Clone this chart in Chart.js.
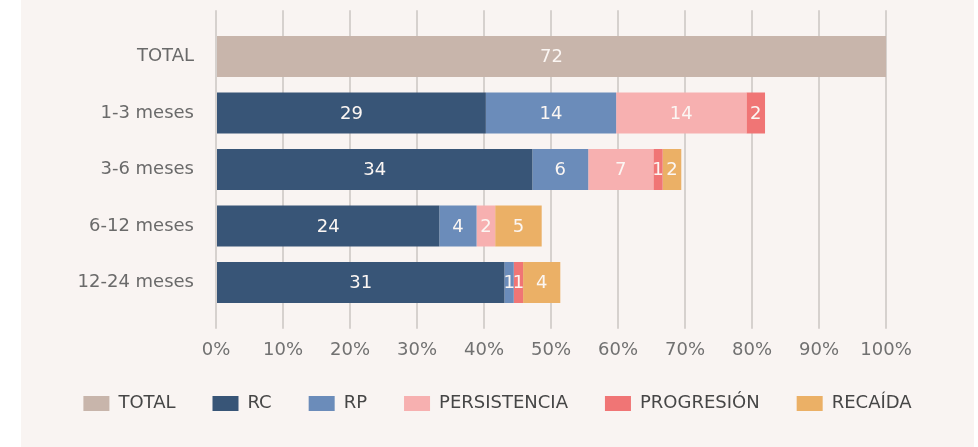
<!DOCTYPE html>
<html lang="es">
<head>
<meta charset="utf-8">
<title>Respuesta por periodo</title>
<script src="https://cdn.jsdelivr.net/npm/chart.js@4.4.1/dist/chart.umd.min.js"></script>
<style>
    body {
        margin: 0;
        background: #ffffff;
    }
    #wrap {
        position: absolute;
        left: 21px;
        top: 0;
        width: 953px;
        height: 447px;
        background: #f9f4f2;
    }
</style>
</head>
<body>
<div id="wrap">
    <canvas id="myChart" width="953" height="447"></canvas>
</div>
<script>
// datos (número de pacientes)
const categories = ['TOTAL', '1-3 meses', '3-6 meses', '6-12 meses', '12-24 meses'];
const totalPacientes = 72;
const total = [72, null, null, null, null];
const rc = [null, 29, 34, 24, 31];
const rp = [null, 14, 6, 4, 1];
const persistencia = [null, 14, 7, 2, 0];
const progresion = [null, 2, 1, 0, 1];
const recaida = [null, 0, 2, 5, 4];
const xTicks = [0, 10, 20, 30, 40, 50, 60, 70, 80, 90, 100];

const FONT = 'DejaVu Sans';

function toPercent(list) {
    return list.map((v) => (v === null ? null : (v / totalPacientes) * 100));
}

function makeSet(label, counts, color) {
    return {
        label: label,
        data: toPercent(counts),
        counts: counts,
        backgroundColor: color,
        borderWidth: 0,
        barPercentage: 0.73,
        categoryPercentage: 1,
    };
}

const data_bar = {
    labels: categories,
    datasets: [
        makeSet('TOTAL', total, '#c8b5ab'),
        makeSet('RC', rc, '#385577'),
        makeSet('RP', rp, '#6b8cba'),
        makeSet('PERSISTENCIA', persistencia, '#f7b0b0'),
        makeSet('PROGRESIÓN', progresion, '#f07575'),
        makeSet('RECAÍDA', recaida, '#ebb066'),
    ],
};

// números blancos dentro de cada tramo
const barLabels = {
    id: 'barLabels',
    afterDatasetsDraw(chart) {
        const ctx = chart.ctx;
        ctx.save();
        ctx.font = `18px "${FONT}"`;
        ctx.fillStyle = '#fbf6f3';
        ctx.textAlign = 'center';
        ctx.textBaseline = 'middle';
        chart.data.datasets.forEach((ds, i) => {
            const meta = chart.getDatasetMeta(i);
            meta.data.forEach((bar, j) => {
                const n = ds.counts[j];
                if (!n) return;
                const p = bar.getCenterPoint();
                ctx.fillText(String(n), p.x, p.y + 1);
            });
        });
        ctx.restore();
    },
};

const gridOpts = {
    color: '#d6d1ce',
    lineWidth: 2,
    tickLength: 18,
    drawTicks: true,
};

const options_bar = {
    indexAxis: 'y',
    responsive: false,
    maintainAspectRatio: false,
    animation: false,
    layout: {
        padding: { top: 10.25, right: 0, bottom: 24.5, left: 0 },
    },
    scales: {
        x: {
            stacked: true,
            min: 0,
            max: 100,
            afterBuildTicks: (scale) => {
                scale.ticks = xTicks.map((v) => ({ value: v }));
            },
            afterFit: (scale) => {
                scale.height = 46.75;
            },
            grid: gridOpts,
            border: { display: false },
            ticks: {
                padding: 13,
                color: '#717171',
                font: { family: FONT, size: 18, lineHeight: 1 },
                callback: (v) => v + '%',
            },
        },
        x2: {
            position: 'top',
            min: 0,
            max: 100,
            afterBuildTicks: (scale) => {
                scale.ticks = xTicks.map((v) => ({ value: v }));
            },
            afterFit: (scale) => {
                scale.height = 18;
            },
            grid: gridOpts,
            border: { display: false },
            ticks: { display: false },
        },
        y: {
            stacked: true,
            afterFit: (scale) => {
                scale.width = 195;
                scale.paddingTop = 0;
                scale.paddingBottom = 0;
            },
            grid: { display: false, drawTicks: false },
            border: { display: false },
            ticks: {
                padding: 22,
                color: '#6a6a6a',
                font: { family: FONT, size: 18 },
            },
        },
        // espacio vacío a la derecha
        yRight: {
            type: 'category',
            position: 'right',
            afterFit: (scale) => {
                scale.width = 88;
                scale.paddingTop = 0;
                scale.paddingBottom = 0;
            },
            grid: { display: false, drawTicks: false },
            border: { display: false },
            ticks: { display: false },
        },
    },
    plugins: {
        legend: {
            position: 'bottom',
            labels: {
                usePointStyle: true,
                pointStyle: 'rect',
                pointStyleWidth: 26,
                boxHeight: 15,
                padding: 37,
                color: '#464646',
                font: { family: FONT, size: 18 },
            },
        },
        tooltip: { enabled: false },
    },
};

const ctx_bar = document.getElementById('myChart').getContext('2d');
const myChart = new Chart(ctx_bar, {
    type: 'bar',
    data: data_bar,
    options: options_bar,
    plugins: [barLabels],
});
</script>
</body>
</html>
